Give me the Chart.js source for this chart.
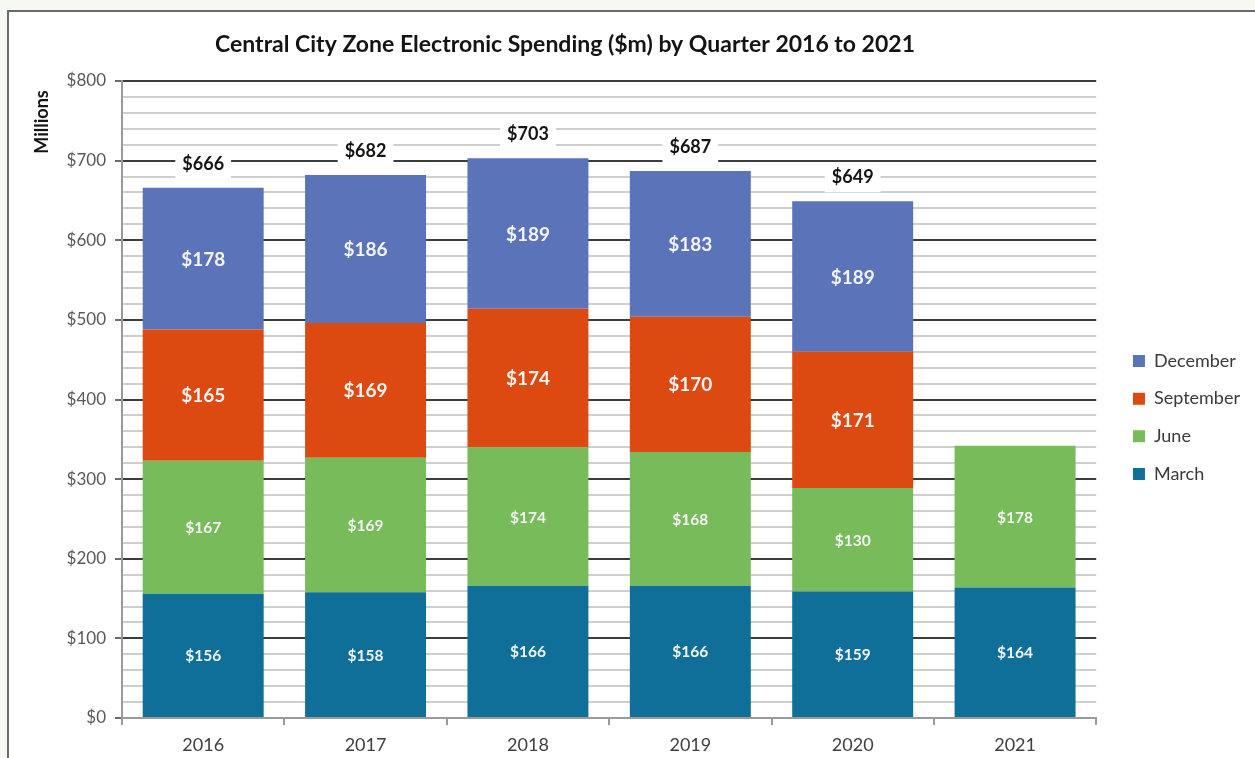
<!DOCTYPE html>
<html>
<head>
<meta charset="utf-8">
<script src="https://cdn.jsdelivr.net/npm/chart.js@4/dist/chart.umd.min.js"></script>
<style>
    html, body { margin: 0; padding: 0; width: 1255px; height: 758px; overflow: hidden; background: #f6f8f2; }
    #frame { position: absolute; left: 7px; top: 10px; width: 1246px; height: 746px; background: #fff;
             border-left: 2px solid #6b6b6b; border-top: 2px solid #6b6b6b; }
    #spending_chart_area { position: absolute; left: 0; top: 0; }
</style>
</head>
<body>
<div id="frame">
    <canvas id="spending_chart_area" width="1246" height="746"></canvas>
</div>
<script>
"use strict"
// values, $m
var years = ["2016", "2017", "2018", "2019", "2020", "2021"];
var march = [156, 158, 166, 166, 159, 164];
var june = [167, 169, 174, 168, 130, 178];
var september = [165, 169, 174, 170, 171, null];
var december = [178, 186, 189, 183, 189, null];
var totals = [666, 682, 703, 687, 649, null];
var yTickLabels = ["$0", "$100", "$200", "$300", "$400", "$500", "$600", "$700", "$800"];

var chartTitle = "Central City Zone Electronic Spending ($m) by Quarter 2016 to 2021";
var FONT = "Lato, 'Liberation Sans', sans-serif";

// draws the $ labels inside the bars, the totals on top, title and axis title
var valueLabels = {
    id: 'valueLabels',
    afterDatasetsDraw: function(chart){
        var ctx = chart.ctx;
        ctx.save();
        ctx.textAlign = 'center';
        ctx.textBaseline = 'middle';
        chart.data.datasets.forEach(function(ds, i){
            var meta = chart.getDatasetMeta(i);
            ctx.font = ds.labelFont;
            ctx.fillStyle = '#f4f4f4';
            meta.data.forEach(function(bar, j){
                if (ds.data[j] == null) return;
                ctx.fillText('$' + ds.data[j], bar.x, (bar.y + bar.base) / 2 + 1);
            });
        });

        var first = chart.getDatasetMeta(0);
        ctx.font = 'bold 18px ' + FONT;
        totals.forEach(function(t, j){
            if (t == null) return;
            var x = first.data[j].x;
            var y = chart.scales.y.getPixelForValue(t) - 24;
            var w = ctx.measureText('$' + t).width + 14;
            ctx.fillStyle = '#fff';
            ctx.fillRect(x - w / 2, y - 15, w, 30);
            ctx.fillStyle = '#141414';
            ctx.fillText('$' + t, x, y);
        });

        ctx.font = 'bold 23px ' + FONT;
        ctx.fillStyle = '#141414';
        ctx.fillText(chartTitle, 556, 33);

        ctx.translate(33, 110);
        ctx.rotate(-Math.PI / 2);
        ctx.font = 'bold 18px ' + FONT;
        ctx.fillText('Millions', 0, 0);
        ctx.restore();
    }
};

function isMajor(c){
    return c.tick && c.tick.value % 100 === 0;
}

var spendingChartArea = document.getElementById("spending_chart_area");
var spendingChart = new Chart(spendingChartArea, {
    type: 'bar',
    data: {
        labels: years,
        datasets: [
            { label: "March", data: march, backgroundColor: "#0f6f98", labelFont: 'bold 15.5px ' + FONT },
            { label: "June", data: june, backgroundColor: "#78bb5a", labelFont: 'bold 15.5px ' + FONT },
            { label: "September", data: september, backgroundColor: "#dc4911", labelFont: 'bold 19px ' + FONT },
            { label: "December", data: december, backgroundColor: "#5b73b9", labelFont: 'bold 19px ' + FONT }
        ]
    },
    options: {
        responsive: false,
        animation: false,
        categoryPercentage: 1,
        barPercentage: 0.745,
        layout: { padding: { top: 69, bottom: 4, left: 0, right: 5 } },
        plugins: {
            title: { display: false },
            tooltip: { enabled: false },
            legend: {
                position: 'right',
                reverse: true,
                labels: {
                    boxWidth: 12,
                    boxHeight: 12,
                    padding: 19.7,
                    color: '#3a3a3a',
                    font: { family: FONT, size: 18 }
                }
            }
        },
        scales: {
            x: {
                stacked: true,
                afterFit: function(scale){ scale.height = 36; },
                grid: {
                    display: true,
                    drawOnChartArea: false,
                    offset: true,
                    tickLength: 7,
                    color: '#9a9a9a',
                    lineWidth: 2
                },
                border: { color: '#9a9a9a', width: 2 },
                ticks: { color: '#404040', padding: 9, font: { family: FONT, size: 18 } }
            },
            y: {
                stacked: true,
                min: 0,
                max: 800,
                afterFit: function(scale){ scale.width = 113; },
                ticks: {
                    stepSize: 20,
                    autoSkip: false,
                    padding: 9,
                    color: '#595959',
                    font: { family: FONT, size: 17 },
                    callback: function(value){
                        return value % 100 === 0 ? yTickLabels[value / 100] : '';
                    }
                },
                grid: {
                    color: function(c){ return isMajor(c) ? '#3c3c3c' : '#cfcfcf'; },
                    lineWidth: 2,
                    tickLength: 7,
                    tickColor: function(c){ return isMajor(c) ? '#6a6a6a' : 'rgba(0,0,0,0)'; }
                },
                border: { color: '#9a9a9a', width: 2 }
            },
            // empty spacer between plot and legend
            gap: {
                type: 'linear',
                position: 'right',
                display: true,
                grid: { display: false },
                border: { display: false },
                ticks: { display: false },
                afterFit: function(scale){ scale.width = 17; }
            }
        }
    },
    plugins: [valueLabels]
});
</script>
</body>
</html>
